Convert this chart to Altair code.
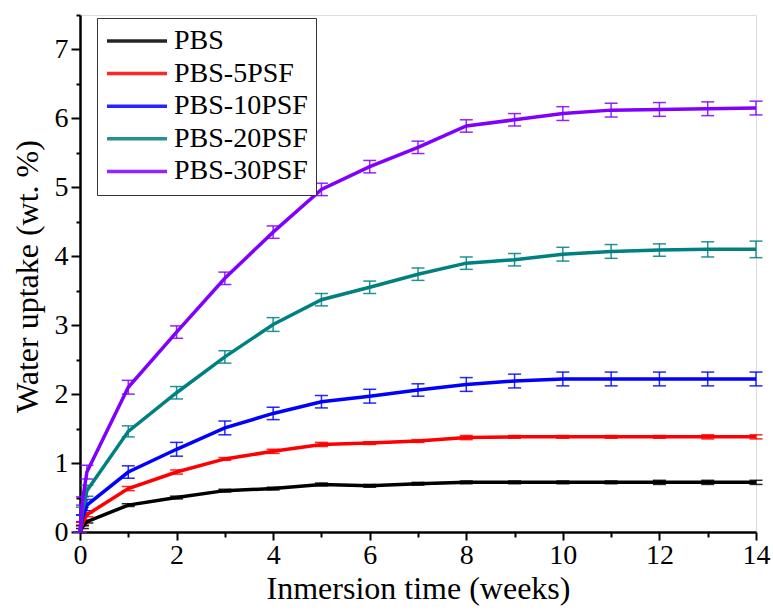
import altair as alt
import pandas as pd

weeks = [0, 0.05, 0.143, 1, 2, 3, 4, 5, 6, 7, 8, 9, 10, 11, 12, 13, 14]
series = ["PBS", "PBS-5PSF", "PBS-10PSF", "PBS-20PSF", "PBS-30PSF"]
colors = ["#000000", "#ff0000", "#0000ff", "#008080", "#8000ff"]

pbs = [0, 0.07, 0.15, 0.39, 0.50, 0.60, 0.63, 0.69, 0.67, 0.70, 0.72, 0.72, 0.72, 0.72, 0.72, 0.72, 0.72]
pbs5 = [0, 0.12, 0.25, 0.63, 0.87, 1.06, 1.17, 1.27, 1.29, 1.32, 1.37, 1.38, 1.38, 1.38, 1.38, 1.38, 1.38]
pbs10 = [0, 0.20, 0.39, 0.87, 1.20, 1.51, 1.72, 1.89, 1.97, 2.06, 2.14, 2.19, 2.22, 2.22, 2.22, 2.22, 2.22]
pbs20 = [0, 0.30, 0.60, 1.46, 2.02, 2.54, 3.01, 3.37, 3.55, 3.74, 3.90, 3.95, 4.03, 4.07, 4.09, 4.10, 4.10]
pbs30 = [0, 0.45, 0.87, 2.10, 2.90, 3.68, 4.35, 4.97, 5.30, 5.58, 5.89, 5.98, 6.07, 6.12, 6.13, 6.14, 6.15]

err_pbs = [0, 0.02, 0.02, 0.02, 0.02, 0.02, 0.02, 0.02, 0.02, 0.02, 0.02, 0.02, 0.02, 0.02, 0.03, 0.03, 0.03]
err_pbs5 = [0, 0.02, 0.03, 0.03, 0.03, 0.02, 0.03, 0.03, 0.02, 0.02, 0.03, 0.02, 0.02, 0.02, 0.02, 0.03, 0.03]
err_pbs10 = [0, 0.05, 0.08, 0.09, 0.10, 0.10, 0.09, 0.09, 0.10, 0.09, 0.10, 0.10, 0.10, 0.10, 0.10, 0.10, 0.10]
err_pbs20 = [0, 0.06, 0.08, 0.08, 0.09, 0.09, 0.10, 0.09, 0.09, 0.09, 0.09, 0.09, 0.10, 0.10, 0.09, 0.11, 0.12]
err_pbs30 = [0, 0.06, 0.10, 0.10, 0.09, 0.09, 0.09, 0.09, 0.09, 0.09, 0.09, 0.09, 0.10, 0.10, 0.10, 0.10, 0.10]

vals = [pbs, pbs5, pbs10, pbs20, pbs30]
errs = [err_pbs, err_pbs5, err_pbs10, err_pbs20, err_pbs30]

rows = []
for name, v, e in zip(series, vals, errs):
    for w, y, d in zip(weeks, v, e):
        rows.append({"series": name, "week": w, "uptake": y, "lo": y - d, "hi": y + d})
df = pd.DataFrame(rows)

FONT = "Liberation Serif"

xscale = alt.Scale(domain=[0, 14], nice=False, zero=True)
yscale = alt.Scale(domain=[0, 7.5], nice=False, zero=True)
cscale = alt.Scale(domain=series, range=colors)

xaxis = alt.Axis(
    values=list(range(0, 15)),
    labelExpr="datum.value % 2 === 0 ? datum.label : ''",
    tickSize={"condition": {"test": "datum.value % 2 === 0", "value": 8}, "value": 5},
    tickWidth=2, tickColor="black",
    domainWidth=2.5, domainColor="black",
    labelFont=FONT, labelFontSize=28, labelColor="black", labelPadding=1,
    title="Inmersion time (weeks)", titleFont=FONT, titleFontSize=32,
    titleFontWeight="normal", titleColor="black",
    titleY=66, titleBaseline="alphabetic",
    grid=False, labelFlush=False,
)
yaxis = alt.Axis(
    values=[i * 0.5 for i in range(0, 16)],
    labelExpr="datum.value % 1 === 0 ? format(datum.value, 'd') : ''",
    tickSize={"condition": {"test": "datum.value % 1 === 0", "value": 9}, "value": 4},
    tickWidth=2, tickColor="black",
    domainWidth=2.5, domainColor="black",
    labelFont=FONT, labelFontSize=28, labelColor="black", labelPadding=3,
    title="Water uptake (wt. %)", titleFont=FONT, titleFontSize=32,
    titleFontWeight="normal", titleColor="black",
    titleX=-53, titleY=261, titleAngle=-90, titleAlign="center", titleBaseline="middle",
    grid=False, labelFlush=False,
)
legend = alt.Legend(
    title=None, orient="none", legendX=17, legendY=3,
    symbolType="stroke", symbolSize=3600, symbolStrokeWidth=3.5,
    labelFont=FONT, labelFontSize=28, labelColor="black", labelOffset=5,
    clipHeight=30, rowPadding=2.6, padding=8,
    strokeColor="#333333", fillColor="white",
)

base = alt.Chart(df)

lines = base.mark_line(strokeWidth=3.5, clip=False).encode(
    x=alt.X("week:Q", scale=xscale, axis=xaxis),
    y=alt.Y("uptake:Q", scale=yscale, axis=yaxis),
    color=alt.Color("series:N", scale=cscale, sort=series, legend=legend),
    detail="series:N",
)

bars = base.mark_errorbar(ticks={"size": 13, "thickness": 1.5}, thickness=1.5, opacity=0.85, clip=False).encode(
    x=alt.X("week:Q", scale=xscale, axis=xaxis),
    y=alt.Y("lo:Q", scale=yscale, axis=yaxis),
    y2="hi:Q",
    color=alt.Color("series:N", scale=cscale, sort=series, legend=legend),
)

chart = alt.layer(bars, lines).properties(
    width=676, height=517,
    autosize=alt.AutoSizeParams(type="none"),
    padding={"left": 80, "top": 15, "right": 17, "bottom": 83},
).configure_view(
    stroke="black", strokeWidth=2.5,
).configure(background="white")

chart.save("out.html", embed_options={"renderer": "svg", "actions": False})
